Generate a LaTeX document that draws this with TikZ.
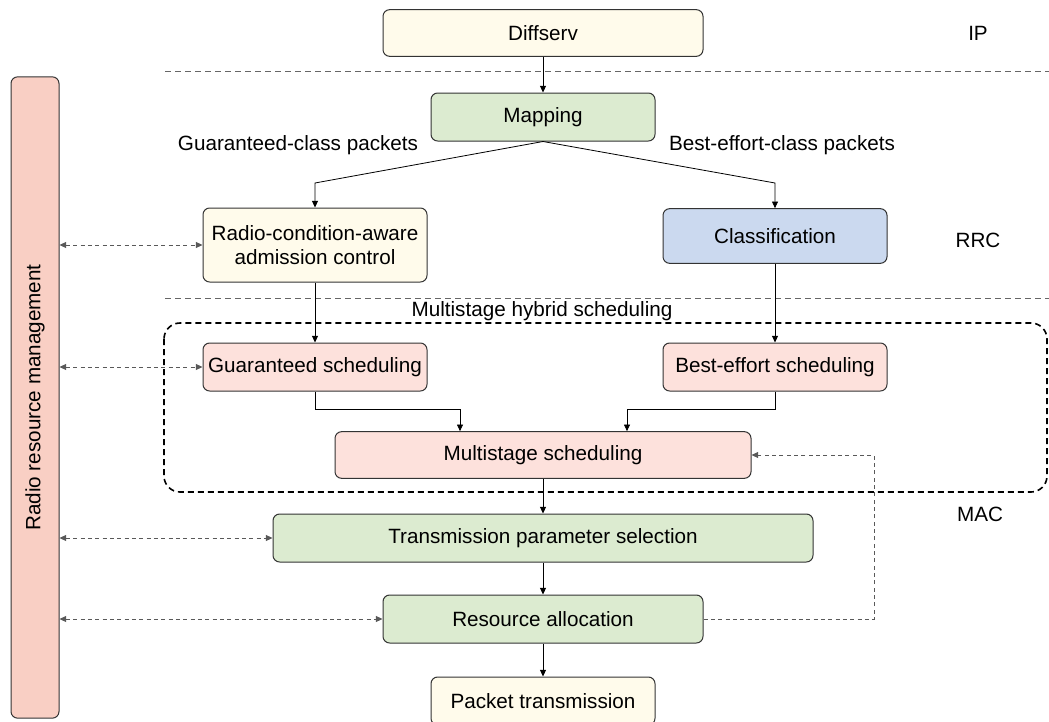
\documentclass[tikz,border=0pt]{standalone}
\usepackage{fontspec}
\setmainfont{Liberation Sans}
\usepackage{tikz}
\usetikzlibrary{arrows.meta, calc, positioning}

\definecolor{creambox}{HTML}{FFFBEB}
\definecolor{greenbox}{HTML}{DCEBD0}
\definecolor{bluebox}{HTML}{CBD9EF}
\definecolor{pinkbox}{HTML}{FDE1DC}
\definecolor{rrmbar}{HTML}{F9CFC4}
\definecolor{edgegray}{HTML}{333333}

\tikzset{
  blk/.style={draw=edgegray, line width=0.75pt, rounded corners=5pt, align=center,
    minimum width=168pt, minimum height=36pt, inner sep=2pt},
  arr/.style={-{Triangle[length=5pt,width=4.5pt]}, line width=0.6pt},
  dbl/.style={{Triangle[length=5pt,width=4.5pt]}-{Triangle[length=5pt,width=4.5pt]},
    line width=0.6pt, draw=black!65, dash pattern=on 3pt off 2.5pt},
  layersep/.style={draw=black!60, line width=0.6pt, dash pattern=on 4.5pt off 3pt},
}

\begin{document}
\begin{tikzpicture}[x=0.75pt, y=-0.75pt, font=\fontsize{15.5}{18}\selectfont]

  \useasboundingbox (0,0) rectangle (1049,721);

  % Schichten
  \draw[layersep] (165,71) -- (1049,71);
  \draw[layersep] (165,298) -- (1049,298);
  \node (ip)  at (978,33)  {IP};
  \node (rrc) at (978,240) {RRC};
  \node (mac) at (980,514) {MAC};

  % Radio resource management
  \node[blk, fill=rrmbar, rotate=90, minimum width=481pt] (rrm) at (35,397.5) {Radio resource management};

  % Blöcke
  \node[blk, fill=creambox, minimum width=240pt, minimum height=35pt] (diff) at (543,33) {Diffserv};
  \node[blk, fill=greenbox] (map) at (543,117) {Mapping};
  \node[blk, fill=creambox, minimum height=55.5pt] (radio) at (315,245) {Radio-condition-aware\\admission control};
  \node[blk, fill=bluebox, minimum height=41pt] (cls) at (775,236) {Classification};
  \node[blk, fill=pinkbox] (gsch) at (315,367) {Guaranteed scheduling};
  \node[blk, fill=pinkbox] (bsch) at (775,367) {Best-effort scheduling};
  \node[blk, fill=pinkbox, minimum width=312pt, minimum height=35pt] (msch) at (543,455) {Multistage scheduling};
  \node[blk, fill=greenbox, minimum width=405pt] (tps) at (543,538) {Transmission parameter selection};
  \node[blk, fill=greenbox, minimum width=240pt] (ra) at (543,619) {Resource allocation};
  \node[blk, fill=creambox] (pkt) at (543,701) {Packet transmission};

  % Beschriftungen
  \node (gtxt) at (298,145) {Guaranteed-class packets};
  \node (btxt) at (782,145) {Best-effort-class packets};
  \node (mhs)  at (542,311) {Multistage hybrid scheduling};

  % gestrichelter Rahmen
  \draw[line width=1.2pt, dash pattern=on 4.5pt off 3pt, rounded corners=12pt]
    (164,323) rectangle (1047,492);

  % Pfeile
  \draw[arr] (diff) -- (map);
  \draw[arr] (map.south) -- (radio.north |- 0,183) -- (radio.north);
  \draw[arr] (map.south) -- (cls.north |- 0,183) -- (cls.north);
  \draw[arr] (radio) -- (gsch);
  \draw[arr] (cls) -- (bsch);
  \draw[arr] (gsch.south) -- ++(0,18) -| (460,0 |- msch.north);
  \draw[arr] (bsch.south) -- ++(0,18) -| (627,0 |- msch.north);
  \draw[arr] (msch) -- (tps);
  \draw[arr] (tps) -- (ra);
  \draw[arr] (ra) -- (pkt);

  % Rückkopplung
  \coordinate (fb) at (874,619);
  \draw[arr, draw=black!65, dash pattern=on 3pt off 2.5pt]
    (ra.east) -- (fb) -- (fb |- msch.east) -- (msch.east);

  % Verbindungen zur Ressourcenverwaltung
  \draw[dbl] (radio.west -| rrm.south) -- (radio.west);
  \draw[dbl] (gsch.west -| rrm.south) -- (gsch.west);
  \draw[dbl] (tps.west -| rrm.south) -- (tps.west);
  \draw[dbl] (ra.west -| rrm.south) -- (ra.west);

\end{tikzpicture}
\end{document}
